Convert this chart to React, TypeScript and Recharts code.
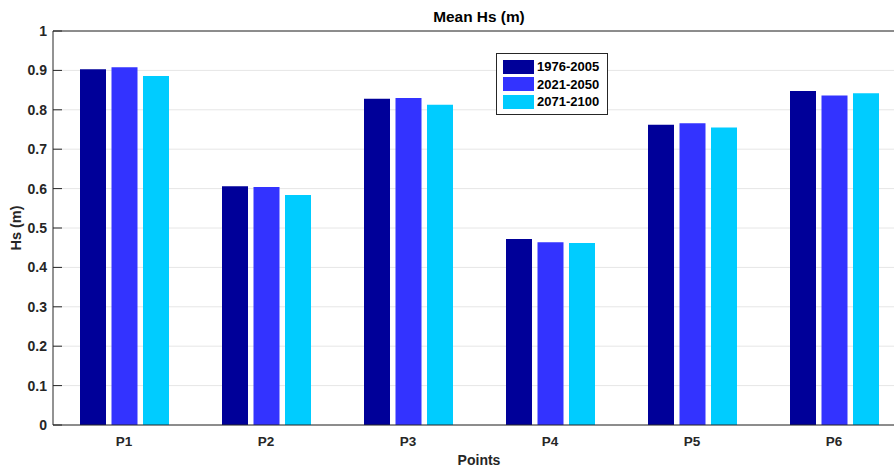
import { BarChart, Bar, XAxis, YAxis, CartesianGrid, Legend, Label } from 'recharts'

const categories = ['P1', 'P2', 'P3', 'P4', 'P5', 'P6']
const hs1976 = [0.903, 0.606, 0.828, 0.472, 0.762, 0.848]
const hs2021 = [0.908, 0.604, 0.83, 0.464, 0.766, 0.836]
const hs2071 = [0.886, 0.584, 0.813, 0.462, 0.755, 0.842]
const yTicks = [0, 0.1, 0.2, 0.3, 0.4, 0.5, 0.6, 0.7, 0.8, 0.9, 1]

const seriesNames = ['1976-2005', '2021-2050', '2071-2100']
const colors = ['#000099', '#3333ff', '#00ccff']

const data = categories.map((name, i) => ({
  name,
  a: hs1976[i],
  b: hs2021[i],
  c: hs2071[i],
}))

const font = '"Liberation Sans", Arial, sans-serif'
const ink = '#262626'

function LegendBox() {
  return (
    <div
      style={{
        width: 104,
        height: 56,
        border: `1px solid ${ink}`,
        background: '#fff',
        paddingTop: 4,
        paddingLeft: 6,
        boxSizing: 'content-box',
        fontFamily: font,
      }}
    >
      {seriesNames.map((s, i) => (
        <div key={s} style={{ display: 'flex', alignItems: 'center', height: 17.5 }}>
          <div style={{ width: 31, height: 14, background: colors[i], marginRight: 3 }} />
          <span style={{ fontSize: 13, fontWeight: 'bold', color: '#000' }}>{s}</span>
        </div>
      ))}
    </div>
  )
}

export default function App() {
  return (
    <div style={{ position: 'absolute', left: 0, top: 0, width: 894, height: 468, overflow: 'hidden', background: '#fff' }}>
      <BarChart
        width={920}
        height={468}
        data={data}
        margin={{ top: 30, right: 15, bottom: 0, left: 0 }}
        barCategoryGap={27}
        barGap={5.5}
        style={{ fontFamily: font }}
      >
        <CartesianGrid vertical={false} stroke="#e6e6e6" />
        <XAxis
          xAxisId="top"
          orientation="top"
          dataKey="name"
          height={1}
          tick={false}
          tickSize={-9}
          tickLine={{ stroke: ink }}
          axisLine={{ stroke: ink }}
        >
          <Label
            value="Mean Hs (m)"
            position="top"
            offset={8}
            style={{ fontSize: 15.4, fontWeight: 'bold', fill: '#000', fontFamily: font }}
          />
        </XAxis>
        <XAxis
          dataKey="name"
          height={43}
          tickLine={false}
          tickSize={0}
          tickMargin={11}
          axisLine={{ stroke: ink }}
          tick={{ fill: ink, fontSize: 13.5, fontWeight: 'bold', fontFamily: font }}
        >
          <Label
            value="Points"
            position="insideBottom"
            offset={3}
            style={{ fontSize: 14, fontWeight: 'bold', fill: ink, fontFamily: font }}
          />
        </XAxis>
        <YAxis
          width={53}
          domain={[0, 1]}
          ticks={yTicks}
          interval={0}
          tickSize={-9}
          tickMargin={15}
          tickLine={{ stroke: ink }}
          axisLine={{ stroke: ink }}
          tickFormatter={(v: number) => String(v)}
          tick={{ fill: ink, fontSize: 14, fontWeight: 'bold', fontFamily: font }}
        >
          <Label
            content={() => (
              <text
                x={16}
                y={228}
                transform="rotate(-90, 16, 228)"
                textAnchor="middle"
                dominantBaseline="central"
                style={{ fontSize: 14.5, fontWeight: 'bold', fill: ink, fontFamily: font }}
              >
                Hs (m)
              </text>
            )}
          />
        </YAxis>
        <Legend
          layout="vertical"
          align="center"
          verticalAlign="middle"
          content={() => <LegendBox />}
          wrapperStyle={{ left: 496, top: 53, width: 112, height: 62 }}
        />
        <Bar dataKey="a" name={seriesNames[0]} fill={colors[0]} isAnimationActive={false} />
        <Bar dataKey="b" name={seriesNames[1]} fill={colors[1]} isAnimationActive={false} />
        <Bar dataKey="c" name={seriesNames[2]} fill={colors[2]} isAnimationActive={false} />
      </BarChart>
    </div>
  )
}
